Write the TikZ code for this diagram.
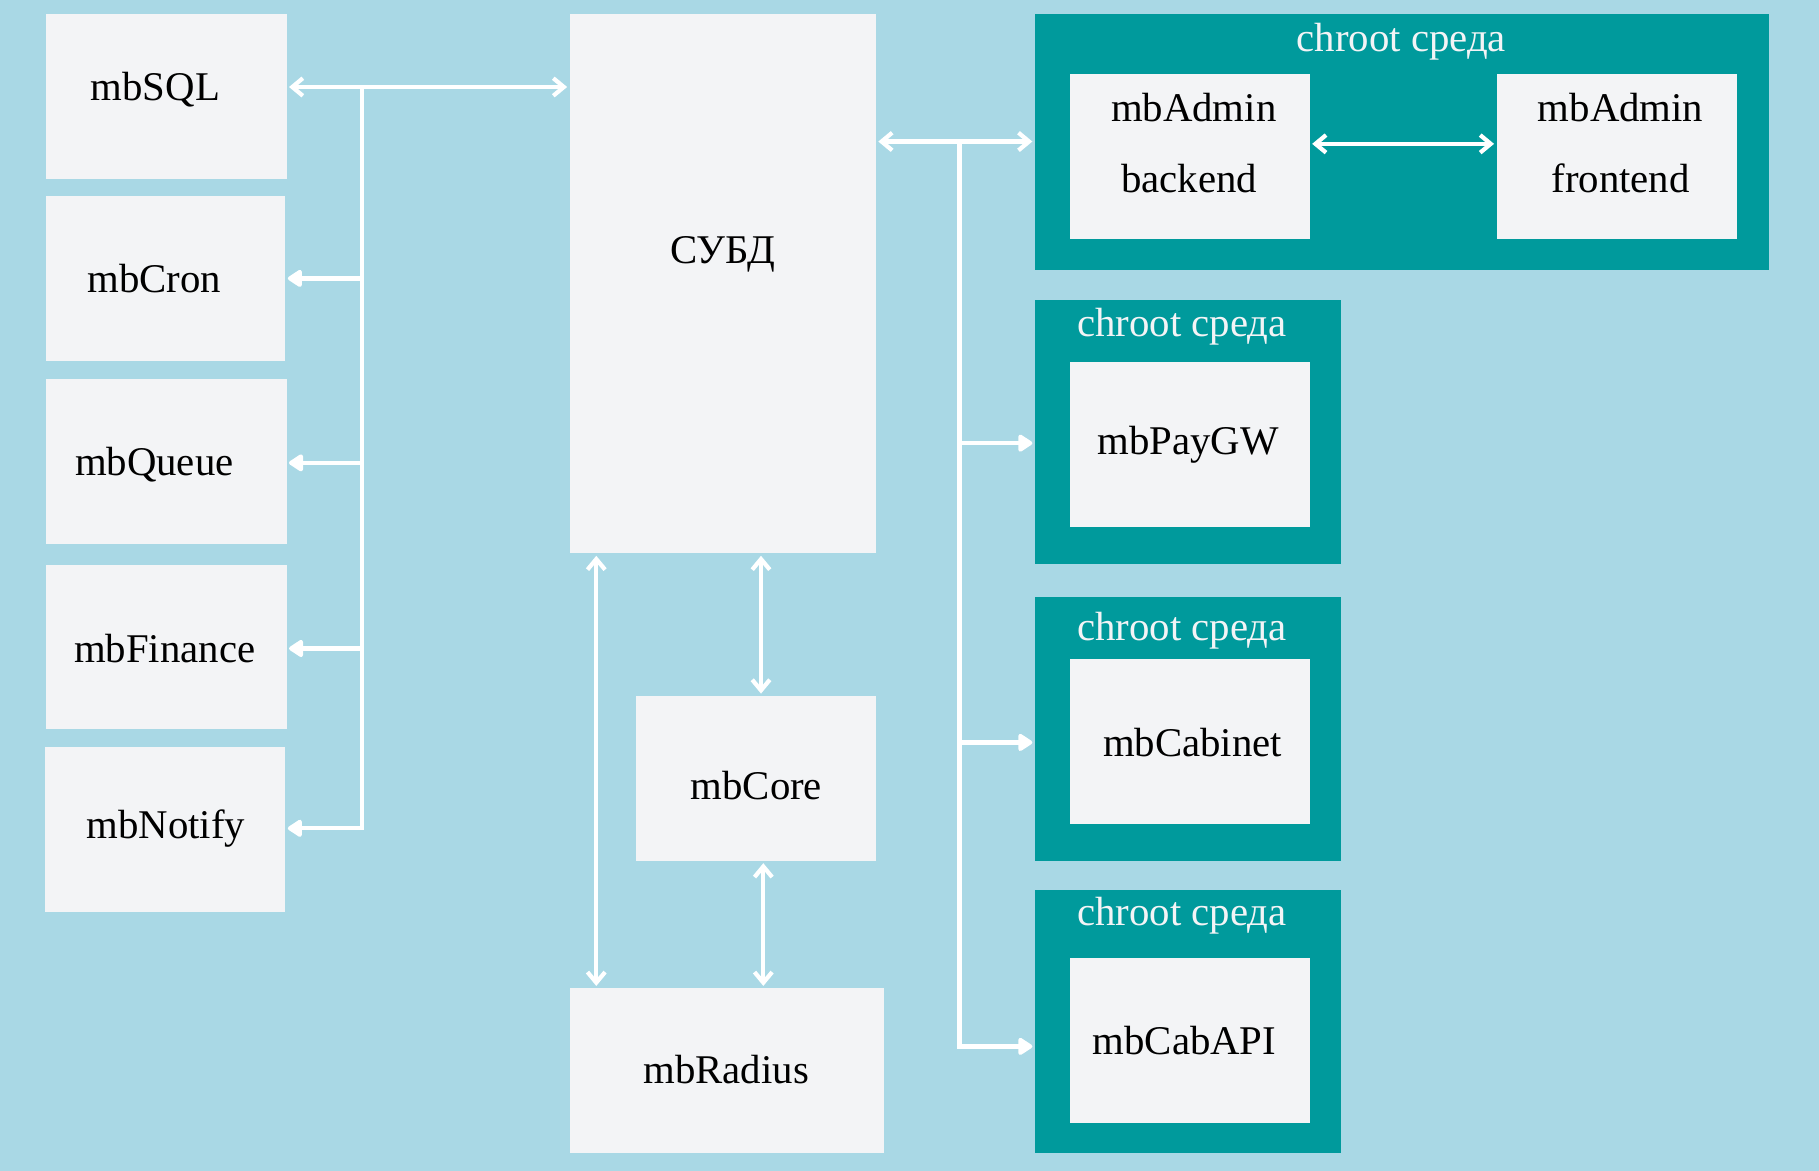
\documentclass[tikz,border=0pt]{standalone}
\usepackage{fontspec}
\setmainfont{Liberation Serif}
\usetikzlibrary{arrows.meta,fit}
\definecolor{bgc}{HTML}{A9D8E5}
\definecolor{boxc}{HTML}{F3F4F6}
\definecolor{chrootc}{HTML}{009A9C}
\begin{document}
\begin{tikzpicture}[x=0.0116cm,y=-0.0116cm,
  box/.style={fill=boxc, draw=none, inner sep=0pt},
  env/.style={fill=chrootc, draw=none, inner sep=0pt},
  lbl/.style={font=\fontsize{11.6pt}{14pt}\selectfont, text height=8pt, text depth=2.5pt, inner sep=0pt, anchor=center, text=black, yshift=-1.2pt},
  wlbl/.style={lbl, text=boxc},
  wire/.style={draw=white, line width=1.2pt},
  bi/.style={wire, {Straight Barb[length=3pt,width=5pt]}-{Straight Barb[length=3pt,width=5pt]}, shorten <=0.5pt, shorten >=0.5pt},
  one/.style={wire, -{Triangle[length=4.5pt,width=5.5pt,round]}, shorten >=0.5pt}]
\fill[bgc] (0,0) rectangle (1568,1009);
\useasboundingbox (0,0) rectangle (1568,1009);
% left column
\node[box, fit={(40,12) (247,154)}] (sql) {};
\node[box, fit={(40,169) (246,311)}] (cron) {};
\node[box, fit={(40,327) (247,469)}] (queue) {};
\node[box, fit={(40,487) (247,628)}] (fin) {};
\node[box, fit={(39,644) (246,786)}] (notify) {};
\node[lbl] (sqlT) at (134,75) {mbSQL};
\node[lbl] (cronT) at (133,240) {mbCron};
\node[lbl] (queueT) at (133,398) {mbQueue};
\node[lbl] (finT) at (142,559) {mbFinance};
\node[lbl] (notifyT) at (143,711) {mbNotify};
% middle
\node[box, fit={(491,12) (755,477)}] (subd) {};
\node[box, fit={(548,600) (755,742)}] (core) {};
\node[box, fit={(491,852) (762,994)}] (radius) {};
\node[lbl] (subdT) at (623,215) {СУБД};
\node[lbl] (coreT) at (652,677) {mbCore};
\node[lbl] (radiusT) at (626,922) {mbRadius};
% chroot environments
\node[env, fit={(892,12) (1525,233)}] (ch1) {};
\node[env, fit={(892,259) (1156,486)}] (ch2) {};
\node[env, fit={(892,515) (1156,742)}] (ch3) {};
\node[env, fit={(892,767) (1156,994)}] (ch4) {};
\node[wlbl] (ch1T) at (1208,32) {chroot среда};
\node[wlbl] (ch2T) at (1019,278) {chroot среда};
\node[wlbl] (ch3T) at (1019,540) {chroot среда};
\node[wlbl] (ch4T) at (1019,786) {chroot среда};
\node[box, fit={(922,64) (1129,206)}] (back) {};
\node[box, fit={(1290,64) (1497,206)}] (front) {};
\node[box, fit={(922,312) (1129,454)}] (pay) {};
\node[box, fit={(922,568) (1129,710)}] (cab) {};
\node[box, fit={(922,826) (1129,968)}] (api) {};
\node[lbl] (backT1) at (1029,93) {mbAdmin};
\node[lbl] (backT2) at (1025,154) {backend};
\node[lbl] (frontT1) at (1397,93) {mbAdmin};
\node[lbl] (frontT2) at (1397,154) {frontend};
\node[lbl] (payT) at (1024,380) {mbPayGW};
\node[lbl] (cabT) at (1028,640) {mbCabinet};
\node[lbl] (apiT) at (1021,897) {mbCabAPI};
% left bus
\coordinate (lbTop) at (312,75);
\coordinate (lb2) at (312,240);
\coordinate (lb3) at (312,399);
\coordinate (lb4) at (312,559);
\coordinate (lbBot) at (312,714);
\draw[bi] (sql.east |- lbTop) -- (subd.west |- lbTop);
\draw[one] (lbTop) -- (lbBot) -- (notify.east |- lbBot);
\draw[one] (lb2) -- (cron.east |- lb2);
\draw[one] (lb3) -- (queue.east |- lb3);
\draw[one] (lb4) -- (fin.east |- lb4);
% right bus
\coordinate (rbTop) at (827,122);
\coordinate (rb2) at (827,382);
\coordinate (rb3) at (827,640);
\coordinate (rbBot) at (827,902);
\draw[bi] (subd.east |- rbTop) -- (ch1.west |- rbTop);
\draw[one] (rbTop) -- (rbBot) -- (ch4.west |- rbBot);
\draw[one] (rb2) -- (ch2.west |- rb2);
\draw[one] (rb3) -- (ch3.west |- rb3);
% admin link
\coordinate (adm) at (1200,124);
\draw[bi] (back.east |- adm) -- (front.west |- adm);
% vertical links
\coordinate (v1) at (514,600);
\coordinate (v2) at (656,540);
\coordinate (v3) at (658,800);
\draw[bi] (subd.south -| v1) -- (radius.north -| v1);
\draw[bi] (subd.south -| v2) -- (core.north -| v2);
\draw[bi] (core.south -| v3) -- (radius.north -| v3);
\end{tikzpicture}
\end{document}
